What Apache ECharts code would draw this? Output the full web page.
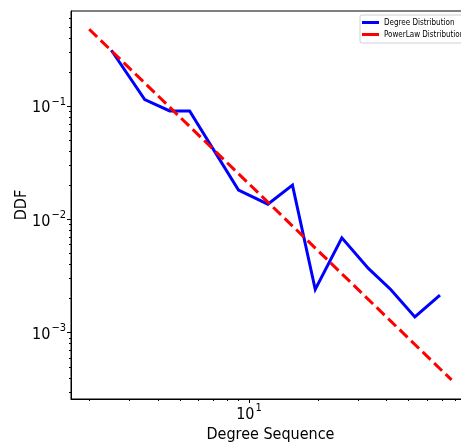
<!DOCTYPE html>
<html>
<head>
<meta charset="utf-8">
<script src="https://cdn.jsdelivr.net/npm/echarts@6/dist/echarts.min.js"></script>
<style>html,body{margin:0;padding:0;background:#fff;}#c{width:461px;height:448px;}</style>
</head>
<body>
<div id="c"></div>
<script>
// ---- data ----
var degreeX = [2.5, 3.5, 4.5, 5.5, 9.0, 12.1, 15.5, 19.5, 25.5, 33.3, 41.7, 53.2, 68.5];
var degreeY = [0.312, 0.1146, 0.0909, 0.0909, 0.01815, 0.01365, 0.0201, 0.00241, 0.00689, 0.0037, 0.00241, 0.00138, 0.00215];
var powerX = [2, 77];
var powerY = [0.478, 0.000383];
var xMajorTicks = [10];
var xMajorLabels = ['1'];
var xMinorTicks = [2, 3, 4, 5, 6, 7, 8, 9, 20, 30, 40, 50, 60, 70, 80, 90];
var yMajorTicks = [0.1, 0.01, 0.001];
var yMajorLabels = ['\u22121', '\u22122', '\u22123'];
var yMinorTicks = [0.0003, 0.0004, 0.0005, 0.0006, 0.0007, 0.0008, 0.0009,
                   0.002, 0.003, 0.004, 0.005, 0.006, 0.007, 0.008, 0.009,
                   0.02, 0.03, 0.04, 0.05, 0.06, 0.07, 0.08, 0.09,
                   0.2, 0.3, 0.4, 0.5, 0.6];
var seriesNames = ['Degree Distribution', 'PowerLaw Distribution'];
var xName = 'Degree Sequence';
var yName = 'DDF';

var FONT = "'DejaVu Sans Condensed', 'DejaVu Sans', sans-serif";
var X_MIN = 1.665, X_MAX = 92.7, Y_MIN = 0.00026, Y_MAX = 0.693;

function pairs(xs, ys) { return xs.map(function (x, i) { return [x, ys[i]]; }); }
function labelFor(ticks, labels) {
  return function (v) {
    for (var i = 0; i < ticks.length; i++) {
      if (Math.abs(v - ticks[i]) / ticks[i] < 1e-6) return '{b|10}{s|' + labels[i] + '}';
    }
    return '';
  };
}
var rich = {
  b: { fontFamily: FONT, fontSize: 16, color: '#000', lineHeight: 20, verticalAlign: 'bottom' },
  s: { fontFamily: FONT, fontSize: 11, color: '#000', lineHeight: 20, verticalAlign: 'top', padding: [0, 0, 0, 1] }
};

var chart = echarts.init(document.getElementById('c'), null, { renderer: 'canvas' });
var grid = { left: 71, top: 11, right: -9, bottom: 49, outerBoundsMode: 'none', show: true, borderColor: '#000', borderWidth: 1, backgroundColor: 'transparent' };

chart.setOption({
  animation: false,
  backgroundColor: '#fff',
  grid: grid,
  legend: {
    orient: 'vertical',
    left: 360, top: 15,
    align: 'left',
    backgroundColor: '#fff',
    borderColor: '#d0d0d0', borderWidth: 1, borderRadius: 2,
    padding: [3, 4, 4, 2],
    itemWidth: 17, itemHeight: 3, itemGap: 3,
    textStyle: { fontFamily: FONT, fontSize: 8, color: '#000', lineHeight: 9 },
    data: [
      { name: seriesNames[0], icon: 'rect', itemStyle: { color: '#0000ff' } },
      { name: seriesNames[1], icon: 'rect', itemStyle: { color: '#ff0000' } }
    ]
  },
  xAxis: [{
    type: 'log', logBase: 10, min: X_MIN, max: X_MAX, position: 'bottom',
    name: xName, nameLocation: 'middle', nameGap: 28, nameMoveOverlap: false,
    nameTextStyle: { fontFamily: FONT, fontSize: 16, color: '#000' },
    axisLine: { show: true, lineStyle: { color: '#000', width: 1 } },
    axisTick: { show: true, inside: false, length: 4, customValues: xMajorTicks, lineStyle: { color: '#000' } },
    axisLabel: { show: true, margin: 4, customValues: xMajorTicks, formatter: labelFor(xMajorTicks, xMajorLabels), rich: rich },
    splitLine: { show: false }, minorTick: { show: false }
  }, {
    type: 'log', logBase: 10, min: X_MIN, max: X_MAX, position: 'bottom', offset: 0,
    axisLine: { show: false },
    axisTick: { show: true, inside: false, length: 2, customValues: xMinorTicks, lineStyle: { color: '#000' } },
    axisLabel: { show: false },
    splitLine: { show: false }
  }],
  yAxis: [{
    type: 'log', logBase: 10, min: Y_MIN, max: Y_MAX, position: 'left',
    name: yName, nameLocation: 'middle', nameGap: 41, nameRotate: 90,
    nameMoveOverlap: false,
    nameTextStyle: { fontFamily: FONT, fontSize: 16, color: '#000' },
    axisLine: { show: true, lineStyle: { color: '#000', width: 1 } },
    axisTick: { show: true, inside: false, length: 4, customValues: yMajorTicks, lineStyle: { color: '#000' } },
    axisLabel: { show: true, margin: 5, customValues: yMajorTicks, formatter: labelFor(yMajorTicks, yMajorLabels), rich: rich },
    splitLine: { show: false }
  }, {
    type: 'log', logBase: 10, min: Y_MIN, max: Y_MAX, position: 'left', offset: 0,
    axisLine: { show: false },
    axisTick: { show: true, inside: false, length: 2, customValues: yMinorTicks, lineStyle: { color: '#000' } },
    axisLabel: { show: false },
    splitLine: { show: false }
  }],
  series: [{
    name: seriesNames[0], type: 'line', xAxisIndex: 0, yAxisIndex: 0,
    data: pairs(degreeX, degreeY), showSymbol: false, symbol: 'none',
    lineStyle: { color: '#0000ff', width: 3, cap: 'butt', join: 'miter' },
    itemStyle: { color: '#0000ff' }, clip: true
  }, {
    name: seriesNames[1], type: 'line', xAxisIndex: 0, yAxisIndex: 0,
    data: pairs(powerX, powerY), showSymbol: false, symbol: 'none',
    lineStyle: { color: '#ff0000', width: 3, type: [11, 5], cap: 'butt' },
    itemStyle: { color: '#ff0000' }, clip: true
  }]
});
</script>
</body>
</html>
